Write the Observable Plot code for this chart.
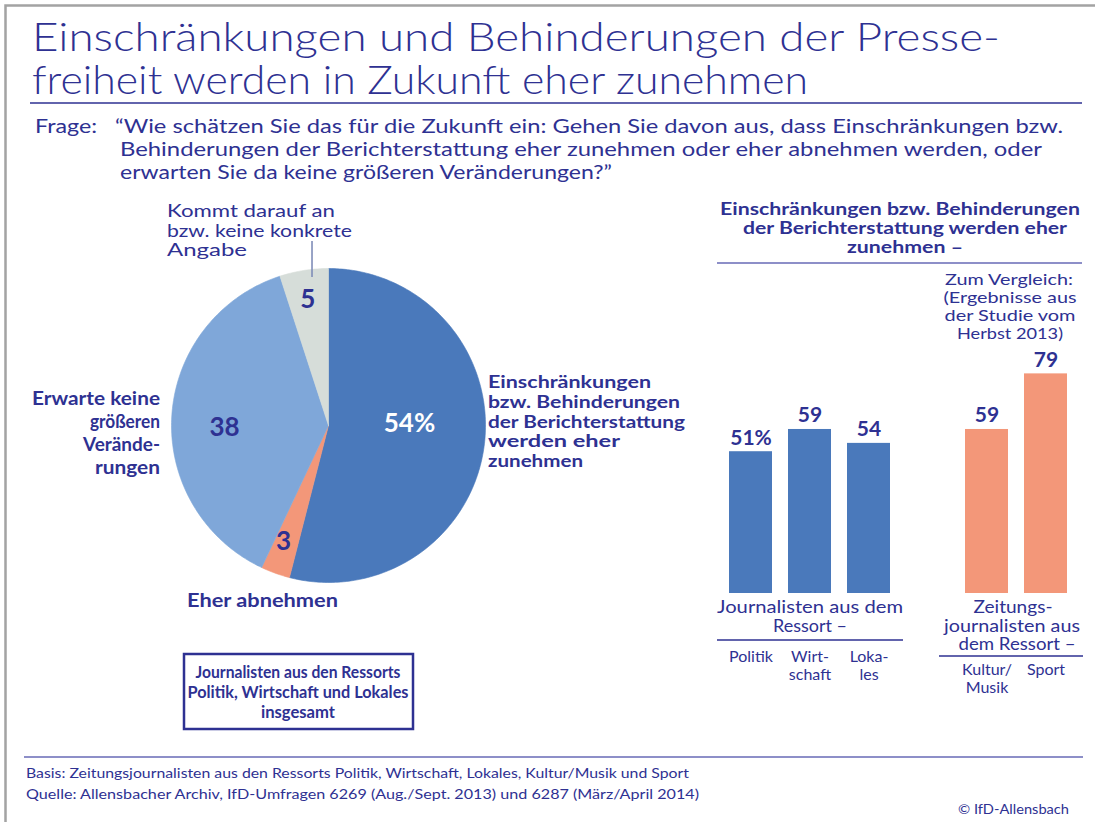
<!DOCTYPE html>
<html><head><meta charset="utf-8">
<script src="https://cdn.jsdelivr.net/npm/d3@7"></script>
<script src="https://cdn.jsdelivr.net/npm/@observablehq/plot@0.6"></script>
<style>
body{margin:0;background:#fff;}
#page{position:relative;width:1095px;height:822px;overflow:hidden;background:#fff;font-family:Lato,"Noto Sans",sans-serif;}
.layer{position:absolute;}
</style></head>
<body><div id="page"></div>
<script>
// ---------- data ----------
const pieCategories = ["Einschränkungen bzw. Behinderungen der Berichterstattung werden eher zunehmen", "Eher abnehmen", "Erwarte keine größeren Veränderungen", "Kommt darauf an bzw. keine konkrete Angabe"];
const pieValues = [54, 3, 38, 5];
const pieValueLabels = ["54%", "3", "38", "5"];

const barCategories = ["Politik", "Wirtschaft", "Lokales", "Kultur/Musik", "Sport"];
const barGroups = ["Journalisten", "Journalisten", "Journalisten", "Zeitungsjournalisten", "Zeitungsjournalisten"];
const barValues = [51, 59, 54, 59, 79];
const barValueLabels = ["51%", "59", "54", "59", "79"];
const barTickLabels = ["Politik", "Wirt-\nschaft", "Loka-\nles", "Kultur/\nMusik", "Sport"];

// ---------- styles ----------
const NAVY = "#2e3192";
const LIGHTRULE = "#8d8fc8";
const pieColors = ["#4a79bb", "#f39779", "#7fa7d9", "#d6ddd9"];
const pieLabelColors = ["#ffffff", NAVY, NAVY, NAVY];
const pieLabelRadius = [0.516, 0.796, 0.662, 0.814];
const pieLabelAngleShift = [-8.6, 1.3, -5, -0.3]; // degrees, nudges from the slice's mid angle
const groupColors = {"Journalisten": "#4a79bb", "Zeitungsjournalisten": "#f39779"};

const page = document.getElementById("page");
function place(el, left, top) {
  const d = document.createElement("div");
  d.className = "layer"; d.style.left = left + "px"; d.style.top = top + "px";
  d.appendChild(el); page.appendChild(d);
}

// ---------- pie (Plot, polygons from d3.pie angles) ----------
const arcs = d3.pie().sort(null).value(d => d)(pieValues);
const piePts = [];
arcs.forEach((a, i) => {
  const n = Math.max(2, Math.ceil((a.endAngle - a.startAngle) / (Math.PI / 180)));
  piePts.push({k: i, x: 0, y: 0});
  for (let j = 0; j <= n; j++) {
    const t = a.startAngle + (a.endAngle - a.startAngle) * j / n;
    piePts.push({k: i, x: Math.sin(t), y: Math.cos(t)});
  }
  piePts.push({k: i, x: 0, y: 0});
});
const pieLabelData = arcs.map((a, i) => {
  const m = (a.startAngle + a.endAngle) / 2 + pieLabelAngleShift[i] * Math.PI / 180, r = pieLabelRadius[i];
  return {x: Math.sin(m) * r, y: Math.cos(m) * r, text: pieValueLabels[i], fill: pieLabelColors[i]};
});
const leader = [{x1: -0.105, y1: 1.175, x2: -0.105, y2: 0.946}];

const pie = Plot.plot({
  width: 360, height: 400,
  marginLeft: 23, marginRight: 23, marginTop: 63, marginBottom: 23,
  x: {domain: [-1, 1], axis: null},
  y: {domain: [-1, 1], axis: null},
  color: {type: "identity"},
  style: {background: "transparent", overflow: "visible"},
  marks: [
    Plot.line(piePts, {x: "x", y: "y", z: "k", fill: d => pieColors[d.k], stroke: d => pieColors[d.k], strokeWidth: 0.6, curve: "linear"}),
    Plot.link(leader, {x1: "x1", y1: "y1", x2: "x2", y2: "y2", stroke: "#7f8db8", strokeWidth: 1.6}),
    Plot.text(pieLabelData, {x: "x", y: "y", text: "text", fill: "fill", fontSize: 26, fontWeight: "bold", fontFamily: "Lato, sans-serif"})
  ]
});
place(pie, 148, 205);

// ---------- bars (Plot) ----------
const spacer = " ";
const xDomain = [...barCategories.slice(0, 3), spacer, ...barCategories.slice(3)];
const barData = barCategories.map((c, i) => ({cat: c, group: barGroups[i], value: barValues[i], label: barValueLabels[i], tick: barTickLabels[i]}));
const tickOf = Object.fromEntries(barData.map(d => [d.cat, d.tick]));
const axisText = {tickSize: 0, label: null, fontSize: 16, lineHeight: 1.125, fill: NAVY, lineAnchor: "top", fontFamily: "Lato, sans-serif"};

const bars = Plot.plot({
  width: 395, height: 520,
  marginLeft: 21, marginRight: 20, marginTop: 125, marginBottom: 117,
  x: {domain: xDomain, paddingInner: 0.271, paddingOuter: 0.1355, label: null},
  y: {domain: [0, 100], axis: null},
  color: {type: "identity"},
  style: {background: "transparent", overflow: "visible"},
  marks: [
    Plot.barY(barData, {x: "cat", y: "value", fill: d => groupColors[d.group]}),
    Plot.text(barData, {x: "cat", y: "value", text: "label", dy: -7, lineAnchor: "bottom", fontSize: 21, fontWeight: "bold", fill: NAVY, fontFamily: "Lato, sans-serif"}),
    Plot.axisX(barCategories.slice(0, 3), {...axisText, tickPadding: 56, tickFormat: d => tickOf[d]}),
    Plot.axisX(barCategories.slice(3), {...axisText, tickPadding: 69, tickFormat: d => tickOf[d]})
  ]
});
place(bars, 700, 190);

// ---------- annotation overlay ----------
const title1 = "Einschränkungen und Behinderungen der Presse-";
const title2 = "freiheit werden in Zukunft eher zunehmen";
const texts = [
  // [text, x, baseline, anchor, width, size, weight]
  [title1, 32, 51, "start", 968, 39, 300],
  [title2, 32, 94, "start", 776, 39, 300],
  ["Frage:", 35, 133, "start", 62, 19.5, 400],
  ["“Wie schätzen Sie das für die Zukunft ein: Gehen Sie davon aus, dass Einschränkungen bzw.", 115, 133, "start", 948, 19.5, 400],
  ["Behinderungen der Berichterstattung eher zunehmen oder eher abnehmen werden, oder", 120, 156, "start", 922, 19.5, 400],
  ["erwarten Sie da keine größeren Veränderungen?”", 120, 179, "start", 492, 19.5, 400],
  ["Kommt darauf an", 167, 217, "start", 168, 17.5, 400],
  ["bzw. keine konkrete", 167, 237, "start", 185, 17.5, 400],
  ["Angabe", 167, 256, "start", 80, 17.5, 400],
  ["Erwarte keine", 160, 405, "end", 128, 18, 700],
  ["größeren", 160, 428, "end", 70, 18, 700],
  ["Verände-", 160, 451, "end", 77, 18, 700],
  ["rungen", 160, 474, "end", 65, 18, 700],
  ["Einschränkungen", 488, 388, "start", 163, 16.5, 700],
  ["bzw. Behinderungen", 488, 408, "start", 192, 16.5, 700],
  ["der Berichterstattung", 488, 428, "start", 197, 16.5, 700],
  ["werden eher", 488, 447, "start", 132, 16.5, 700],
  ["zunehmen", 488, 467, "start", 95, 16.5, 700],
  ["Eher abnehmen", 187, 607, "start", 151, 18, 700],
  ["Journalisten aus den Ressorts", 298, 678, "middle", 205, 17.5, 700],
  ["Politik, Wirtschaft und Lokales", 298, 698, "middle", 221, 17.5, 700],
  ["insgesamt", 298, 718, "middle", 74, 17.5, 700],
  ["Einschränkungen bzw. Behinderungen", 900, 215, "middle", 360, 16.5, 700],
  ["der Berichterstattung werden eher", 905, 234, "middle", 324, 16.5, 700],
  ["zunehmen –", 905, 253, "middle", 116, 16.5, 700],
  ["Zum Vergleich:", 1009, 285, "middle", 128, 16, 400],
  ["(Ergebnisse aus", 1010, 303, "middle", 133, 16, 400],
  ["der Studie vom", 1010, 321, "middle", 131, 16, 400],
  ["Herbst 2013)", 1010, 339, "middle", 106, 16, 400],
  ["Journalisten aus dem", 810, 613, "middle", 186, 16.5, 400],
  ["Ressort –", 810, 632, "middle", 74, 16.5, 400],
  ["Zeitungs-", 1013, 613, "middle", 79, 16.5, 400],
  ["journalisten aus", 1012, 632, "middle", 136, 16.5, 400],
  ["dem Ressort –", 1017, 650, "middle", 117, 16.5, 400],
  ["Basis: Zeitungsjournalisten aus den Ressorts Politik, Wirtschaft, Lokales, Kultur/Musik und Sport", 26, 778, "start", 663, 14, 400],
  ["Quelle: Allensbacher Archiv, IfD-Umfragen 6269 (Aug./Sept. 2013) und 6287 (März/April 2014)", 26, 799, "start", 673, 14, 400],
  ["© IfD-Allensbach", 1069, 814, "end", 111, 13, 400]
];
const rules = [
  // [x1, x2, y, color, width]
  [30, 1082, 103, NAVY, 1.5],
  [717, 1082, 263, LIGHTRULE, 2],
  [717, 903, 640, NAVY, 1.5],
  [939, 1083, 656, NAVY, 1.5],
  [24, 1083, 757, LIGHTRULE, 2]
];

const svg = d3.create("svg").attr("width", 1095).attr("height", 822)
  .style("position", "absolute").style("left", 0).style("top", 0).style("pointer-events", "none");
// frame
svg.append("path").attr("d", "M5.5,822V5.5H1095").attr("fill", "none").attr("stroke", "#a3a3a3").attr("stroke-width", 2.5);
rules.forEach(([x1, x2, y, c, w]) => svg.append("line").attr("x1", x1).attr("x2", x2).attr("y1", y).attr("y2", y).attr("stroke", c).attr("stroke-width", w));
// box
svg.append("rect").attr("x", 184).attr("y", 654).attr("width", 229).attr("height", 75).attr("fill", "none").attr("stroke", NAVY).attr("stroke-width", 2.5);
texts.forEach(([t, x, y, anchor, w, size, weight]) => {
  svg.append("text").attr("x", x).attr("y", y).attr("text-anchor", anchor)
    .attr("font-family", "Lato, 'Noto Sans', sans-serif").attr("font-size", size).attr("font-weight", weight)
    .attr("fill", NAVY).attr("textLength", w).attr("lengthAdjust", "spacingAndGlyphs").text(t);
});
page.appendChild(svg.node());
</script>
</body></html>
